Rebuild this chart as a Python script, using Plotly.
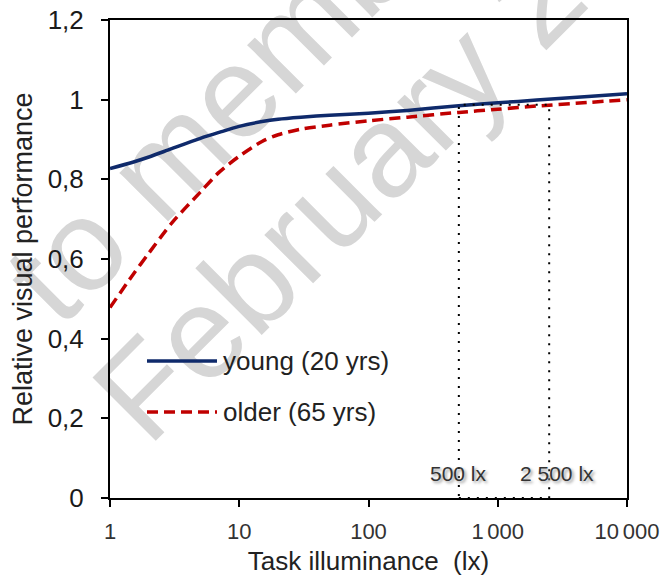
import math
import plotly.graph_objects as go

# Task illuminance (lx) and relative visual performance per age group
illuminance = [1, 1.5, 2, 3, 5, 7, 10, 15, 20, 30, 50, 100, 200, 500, 1000, 2000, 5000, 10000]
young_20 = [0.827, 0.843, 0.856, 0.877, 0.903, 0.918, 0.933, 0.945, 0.951, 0.956, 0.961,
            0.966, 0.973, 0.985, 0.992, 0.999, 1.008, 1.015]
older_65 = [0.478, 0.560, 0.615, 0.690, 0.768, 0.818, 0.858, 0.895, 0.912, 0.926, 0.936,
            0.947, 0.956, 0.968, 0.976, 0.984, 0.993, 1.000]

series_names = ["young (20 yrs)", "older (65 yrs)"]
series_colors = ["#0f2a6b", "#c00000"]
series_dash = ["solid", "11px,6px"]

x_tick_vals = [1, 10, 100, 1000, 10000]
x_tick_text = ["1", "10", "100", "1\u2006000", "10\u2006000"]
y_tick_vals = [0, 0.2, 0.4, 0.6, 0.8, 1.0, 1.2]
y_tick_text = ["0", "0,2", "0,4", "0,6", "0,8", "1", "1,2"]

# Recommended illuminance band
band_lx = [500, 2500]
band_labels = ["500 lx", "2 500 lx"]
band_top = 0.987

W, H = 660, 576
M = dict(l=110, r=33, t=20, b=78)
PW, PH = W - M["l"] - M["r"], H - M["t"] - M["b"]
FONT = "Liberation Sans, Arial, sans-serif"


def paper(px, py):
    return (px - M["l"]) / PW, (H - M["b"] - py) / PH


fig = go.Figure()
for name, ys, color, dash in zip(series_names, [young_20, older_65], series_colors, series_dash):
    fig.add_trace(go.Scatter(x=illuminance, y=ys, mode="lines", name=name,
                             line=dict(color=color, width=3.5, dash=dash, shape="spline",
                                       smoothing=0.8),
                             showlegend=False))

# Dotted band between the two reference illuminances
fig.add_shape(type="rect", xref="x", yref="y", x0=band_lx[0], x1=band_lx[1],
              y0=0, y1=band_top, line=dict(color="black", width=2, dash="2px,7px"),
              layer="above")
for val, txt, shift in zip(band_lx, band_labels, [0, 8]):
    fig.add_annotation(x=math.log10(val), y=0.062, xref="x", yref="y", text=txt,
                       showarrow=False, xshift=shift,
                       font=dict(family="Liberation Sans Narrow, Arial Narrow, Liberation Sans",
                                 size=21, color="#333333", shadow="2px 2px 3px #999999"))

# Legend drawn by hand: long sample lines with labels
legend_rows = [361, 412]
for name, color, dash, py in zip(series_names, series_colors, series_dash, legend_rows):
    x0, y0 = paper(147, py)
    x1, _ = paper(217, py)
    fig.add_shape(type="line", xref="paper", yref="paper", x0=x0, x1=x1, y0=y0, y1=y0,
                  line=dict(color=color, width=3.5, dash=dash))
    tx, ty = paper(221, py)
    fig.add_annotation(x=tx, y=ty, xref="paper", yref="paper", text=name, showarrow=False,
                       xanchor="left", yanchor="middle",
                       font=dict(family=FONT, size=26, color="#222222"))

# Faint diagonal watermark underneath the data
wm_lines = ["to members", "February 2020"]
wm_centers = [(262, 47), (407, 109)]
ang = math.radians(45)
d = (math.cos(ang), -math.sin(ang))
for txt, (cx, cy) in zip(wm_lines, wm_centers):
    ax, ay = paper(cx - 10 * d[0], cy - 10 * d[1])
    bx, by = paper(cx + 10 * d[0], cy + 10 * d[1])
    fig.add_shape(type="line", xref="paper", yref="paper", x0=ax, y0=ay, x1=bx, y1=by,
                  line=dict(color="rgba(0,0,0,0)", width=0), layer="below",
                  label=dict(text=txt, textposition="middle", yanchor="middle",
                             font=dict(family=FONT, size=130, color="#d6d6d6")))

fig.update_xaxes(type="log", range=[0, 4], tickvals=x_tick_vals, ticktext=x_tick_text,
                 ticks="outside", ticklen=7, tickwidth=2, tickcolor="black",
                 ticklabeloverflow="allow", ticklabelstandoff=6, automargin=False,
                 showline=True, linecolor="black", linewidth=2, mirror=True,
                 showgrid=False, zeroline=False,
                 tickfont=dict(family=FONT, size=22, color="#333333"),
                 title=dict(text="Task illuminance  (lx)", standoff=14,
                            font=dict(family=FONT, size=26, color="#222222")))
fig.update_yaxes(range=[0, 1.2], tickvals=y_tick_vals, ticktext=y_tick_text,
                 ticks="outside", ticklen=7, tickwidth=2, tickcolor="black",
                 ticklabelstandoff=12, automargin=False,
                 showline=True, linecolor="black", linewidth=2, mirror=True,
                 showgrid=False, zeroline=False,
                 tickfont=dict(family=FONT, size=26, color="#1a1a1a"),
                 title=dict(text="Relative visual performance", standoff=7,
                            font=dict(family=FONT, size=27, color="#222222")))

fig.update_layout(width=W, height=H, margin=M, paper_bgcolor="white",
                  plot_bgcolor="rgba(0,0,0,0)", showlegend=False)

fig.write_html("out.html")
